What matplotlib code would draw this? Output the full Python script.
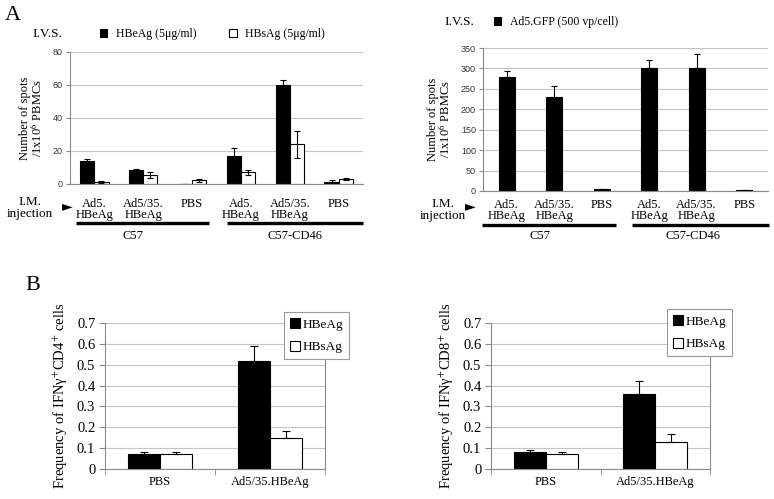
import matplotlib
matplotlib.use("Agg")
import matplotlib.pyplot as plt
from matplotlib.lines import Line2D
import numpy as np

# ---------------- data ----------------
groups_top = ["Ad5.\nHBeAg", "Ad5/35.\nHBeAg", "PBS", "Ad5.\nHBeAg", "Ad5/35.\nHBeAg", "PBS"]
strains = ["C57", "C57-CD46"]

hbeag_spots = [14, 8.5, 0.2, 17, 60, 1.5]
hbeag_spots_err = [1, 0.7, 0.1, 5, 3, 1]
hbsag_spots = [1.5, 5.5, 2.2, 7, 24, 3]
hbsag_spots_err = [0.6, 2, 1, 1.5, 8, 0.7]

gfp_spots = [280, 230, 5, 300, 300, 2]
gfp_spots_err = [14, 28, 0, 20, 36, 0]

groups_bottom = ["PBS", "Ad5/35.HBeAg"]
cd4_hbeag = [0.07, 0.52]
cd4_hbeag_err = [0.01, 0.07]
cd4_hbsag = [0.07, 0.15]
cd4_hbsag_err = [0.01, 0.03]
cd8_hbeag = [0.08, 0.36]
cd8_hbeag_err = [0.01, 0.06]
cd8_hbsag = [0.07, 0.13]
cd8_hbsag_err = [0.01, 0.04]

# ---------------- style ----------------
plt.rcParams['font.family'] = ['Liberation Serif', 'DejaVu Serif']
plt.rcParams['mathtext.fontset'] = 'stix'
SERIF = ['Liberation Serif', 'DejaVu Serif']
SANS = ['Liberation Sans', 'DejaVu Sans']
GRID = '#c4c4c4'
SPINE = '#8a8a8a'

W, H = 774, 499
fig = plt.figure(figsize=(W / 100, H / 100), dpi=100)


def ax_px(x0, y0, x1, y1):
    return fig.add_axes([x0 / W, 1 - y1 / H, (x1 - x0) / W, (y1 - y0) / H])


def fx(x):
    return x / W


def fy(y):
    return 1 - y / H


def ftext(x, y, s, **kw):
    kw.setdefault('family', SERIF)
    fig.text(fx(x), fy(y), s, **kw)


def hline(x0, x1, y, lw=2.4):
    fig.add_artist(Line2D([fx(x0), fx(x1)], [fy(y), fy(y)], transform=fig.transFigure,
                          color='black', lw=lw, solid_capstyle='butt'))


def style_top(ax, ymax, step, xpad):
    ax.set_ylim(0, ymax)
    ax.set_xlim(-0.5, 5.5)
    ax.set_yticks(np.arange(0, ymax + step / 2, step))
    ax.yaxis.grid(True, color=GRID, lw=0.8)
    ax.set_axisbelow(True)
    for s in ['top', 'right']:
        ax.spines[s].set_visible(False)
    ax.spines['left'].set_color(SPINE)
    ax.spines['bottom'].set_color(SPINE)
    ax.spines['left'].set_linewidth(0.8)
    ax.spines['bottom'].set_linewidth(0.8)
    ax.tick_params(axis='y', length=3, color=SPINE, labelsize=6.5, pad=2)
    for lab in ax.get_yticklabels():
        lab.set_family(SANS)
        lab.set_color('#333333')
    ax.set_xticks(range(len(groups_top)))
    ax.set_xticklabels(groups_top, fontsize=9, linespacing=0.95, family=SERIF)
    ax.tick_params(axis='x', length=0, pad=xpad)
    ax.set_ylabel("Number of spots\n/1x10$^{6}$ PBMCs", fontsize=9, linespacing=0.8,
                  family=SERIF, labelpad=6)


# ---------------- panel A left ----------------
axA = ax_px(70, 52, 363, 184)
x = np.arange(len(groups_top))
bw = 0.29
b1 = axA.bar(x - bw / 2, hbeag_spots, bw, color='black', edgecolor='black', lw=0.8)
b2 = axA.bar(x + bw / 2, hbsag_spots, bw, color='white', edgecolor='black', lw=0.8)
axA.errorbar(x - bw / 2, hbeag_spots, yerr=hbeag_spots_err, fmt='none', ecolor='black',
             elinewidth=0.8, capsize=2.5, capthick=0.8)
axA.errorbar(x + bw / 2, hbsag_spots, yerr=hbsag_spots_err, fmt='none', ecolor='black',
             elinewidth=0.8, capsize=2.5, capthick=0.8)
style_top(axA, 80, 20, 10)

ftext(5, 15, "A", fontsize=16, va='center', ha='left')
ftext(47, 34, "I.V.S.", fontsize=9.5, va='center', ha='center')
fig.legend([b1, b2], ["HBeAg (5μg/ml)", "HBsAg (5μg/ml)"], ncol=2, frameon=False,
           loc='center left', bbox_to_anchor=(fx(100), fy(34)), fontsize=8.5,
           handlelength=0.6, handleheight=0.75, handletextpad=0.75, columnspacing=2.8,
           borderaxespad=0, borderpad=0)
ftext(30, 208, "I.M.\ninjection", fontsize=9.5, va='center', ha='center', linespacing=0.95)
ftext(67, 206, "►", fontsize=10, va='center', ha='center', family=['DejaVu Sans'])
hline(76, 209, 223)
hline(227, 363, 223)
ftext(133, 236, strains[0], fontsize=9, va='center', ha='center')
ftext(295, 236, strains[1], fontsize=9, va='center', ha='center')

# ---------------- panel A right ----------------
axR = ax_px(483, 48, 768, 191)
bg = axR.bar(x, gfp_spots, 0.34, color='black', edgecolor='black', lw=0.8)
axR.errorbar(x, gfp_spots, yerr=[np.zeros(len(gfp_spots)), gfp_spots_err], fmt='none',
             ecolor='black', elinewidth=0.8, capsize=2.5, capthick=0.8)
style_top(axR, 350, 50, 5.5)

ftext(459, 22, "I.V.S.", fontsize=9.5, va='center', ha='center')
fig.legend([bg], ["Ad5.GFP (500 vp/cell)"], frameon=False,
           loc='center left', bbox_to_anchor=(fx(494), fy(22)), fontsize=8.5,
           handlelength=0.6, handleheight=0.75, handletextpad=0.75,
           borderaxespad=0, borderpad=0)
ftext(443, 210, "I.M.\ninjection", fontsize=9.5, va='center', ha='center', linespacing=0.95)
ftext(470, 206, "►", fontsize=10, va='center', ha='center', family=['DejaVu Sans'])
hline(482, 616, 225)
hline(632, 769, 225)
ftext(540, 236, strains[0], fontsize=9, va='center', ha='center')
ftext(693, 236, strains[1], fontsize=9, va='center', ha='center')


# ---------------- panel B ----------------
def style_bottom(ax, ylabel):
    ax.set_ylim(0, 0.7)
    ax.set_xlim(-0.5, 1.5)
    ax.set_yticks(np.arange(0, 0.71, 0.1))
    ax.set_yticklabels(["0"] + ["%.1f" % v for v in np.arange(0.1, 0.71, 0.1)])
    ax.yaxis.grid(True, color=GRID, lw=0.8)
    ax.set_axisbelow(True)
    ax.spines['top'].set_visible(False)
    for s in ['left', 'right', 'bottom']:
        ax.spines[s].set_color(SPINE)
        ax.spines[s].set_linewidth(0.8)
    ax.tick_params(axis='y', length=4, color=SPINE, labelsize=10.5, pad=3)
    ax.set_xticks(range(len(groups_bottom)))
    ax.set_xticklabels(groups_bottom, fontsize=9)
    ax.tick_params(axis='x', which='major', length=0, pad=5)
    ax.set_xticks([-0.5, 0.5, 1.5], minor=True)
    ax.tick_params(axis='x', which='minor', length=4, color=SPINE)
    ax.set_ylabel(ylabel, fontsize=10.5, labelpad=5)


def draw_bottom(ax, e, e_err, s, s_err, ylabel, leg_xy):
    xb = np.arange(len(groups_bottom))
    w = 0.29
    h1 = ax.bar(xb - w / 2, e, w, color='black', edgecolor='black', lw=0.8)
    h2 = ax.bar(xb + w / 2, s, w, color='white', edgecolor='black', lw=0.8)
    ax.errorbar(xb - w / 2, e, yerr=[np.zeros(len(e)), e_err], fmt='none', ecolor='black',
                elinewidth=0.8, capsize=3, capthick=0.8)
    ax.errorbar(xb + w / 2, s, yerr=[np.zeros(len(s)), s_err], fmt='none', ecolor='black',
                elinewidth=0.8, capsize=3, capthick=0.8)
    style_bottom(ax, ylabel)
    leg = fig.legend([h1, h2], ["HBeAg", "HBsAg"], loc='upper left',
                     bbox_to_anchor=(fx(leg_xy[0]), fy(leg_xy[1])), fontsize=9.5,
                     fancybox=False, edgecolor='#9a9a9a', framealpha=1,
                     handlelength=0.75, handleheight=0.85, handletextpad=0.2,
                     labelspacing=0.75, borderpad=0.45, borderaxespad=0)
    leg.get_frame().set_linewidth(0.8)


axB1 = ax_px(105, 323, 325, 469)
draw_bottom(axB1, cd4_hbeag, cd4_hbeag_err, cd4_hbsag, cd4_hbsag_err,
            "Frequency of IFNγ$^{+}$CD4$^{+}$ cells", (284, 312))
axB2 = ax_px(491, 323, 710, 469)
draw_bottom(axB2, cd8_hbeag, cd8_hbeag_err, cd8_hbsag, cd8_hbsag_err,
            "Frequency of IFNγ$^{+}$CD8$^{+}$ cells", (667, 309))
ftext(33, 285, "B", fontsize=16, va='center', ha='center')

fig.savefig("out.png", dpi=100)
